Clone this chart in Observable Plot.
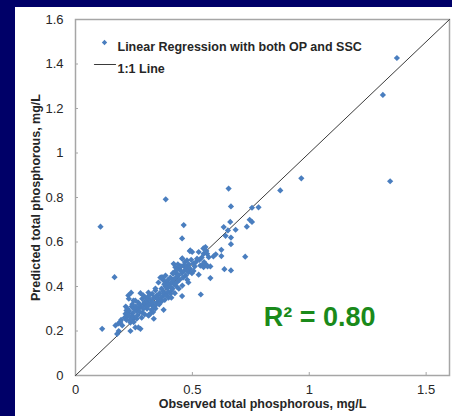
<!DOCTYPE html>
<html>
<head>
<meta charset="utf-8">
<script src="https://cdn.jsdelivr.net/npm/d3@7"></script>
<script src="https://cdn.jsdelivr.net/npm/@observablehq/plot@0.6"></script>
<style>
  html, body { margin: 0; padding: 0; }
  body { width: 452px; height: 416px; background: #000068; position: relative; overflow: hidden; font-family: "Liberation Sans", Arial, sans-serif; }
  #panel { position: absolute; left: 15px; top: 7px; width: 437px; height: 409px; background: #ffffff; }
  #chart { position: absolute; left: 0; top: 0; }
</style>
</head>
<body>
<div id="panel"></div>
<div id="chart"></div>
<script>
const xTicks = [0, 0.5, 1, 1.5];
const yTicks = [0, 0.2, 0.4, 0.6, 0.8, 1, 1.2, 1.4, 1.6];
const xLabel = "Observed total phosphorous, mg/L";
const yLabel = "Predicted total phosphorous, mg/L";
const seriesName = "Linear Regression with both OP and SSC";
const lineName = "1:1 Line";
const r2Text = "R² = 0.80";
const oneToOne = [0, 1.6];

// observed TP (x) and predicted TP (y)
const observed = [
  0.114,0.107,0.167,0.386,0.655,0.665,0.662,0.634,0.685,0.665,0.665,0.665,0.637,0.726,0.577,0.577,0.536,0.463,0.456,0.624,0.624,0.642,0.733,0.745,0.755,0.755,0.783,0.876,0.966,1.346,1.315,1.375,0.652,0.547,0.56,0.59,0.6,
  0.178,0.185,0.171,0.184,0.192,0.2,0.195,
  0.214,0.218,0.226,0.226,0.228,0.235,0.235,0.21,0.22,0.215,0.222,0.23,0.238,0.24,0.244,0.248,0.249,0.249,0.245,0.24,0.232,0.25,0.243,0.218,0.228,
  0.256,0.269,0.278,0.256,0.265,0.269,0.278,0.285,0.286,0.292,0.299,0.26,0.27,0.275,0.28,0.29,0.295,0.262,0.283,0.296,0.3,0.29,0.272,0.258,
  0.306,0.313,0.312,0.312,0.329,0.328,0.335,0.342,0.342,0.342,0.349,0.305,0.31,0.318,0.32,0.325,0.33,0.335,0.338,0.345,0.348,0.315,0.322,0.332,0.308,0.35,
  0.355,0.355,0.363,0.363,0.37,0.372,0.376,0.377,0.377,0.385,0.392,0.393,0.36,0.365,0.368,0.37,0.375,0.38,0.382,0.385,0.388,0.39,0.395,0.398,0.358,0.38,0.396,
  0.399,0.406,0.406,0.41,0.419,0.42,0.427,0.434,0.44,0.449,0.405,0.412,0.415,0.418,0.422,0.425,0.43,0.432,0.435,0.438,0.44,0.442,0.445,0.448,0.41,0.428,0.416,
  0.456,0.456,0.457,0.457,0.462,0.47,0.477,0.483,0.484,0.489,0.491,0.499,0.455,0.46,0.465,0.468,0.472,0.475,0.48,0.485,0.49,0.495,0.498,0.452,0.478,
  0.504,0.52,0.527,0.527,0.534,0.541,0.548,0.548,0.556,0.563,0.57,0.51,0.515,0.505,0.53,0.54,0.55,0.558,0.565
];
const predicted = [
  0.21,0.669,0.442,0.792,0.84,0.76,0.69,0.667,0.655,0.62,0.59,0.472,0.478,0.534,0.49,0.438,0.364,0.676,0.616,0.565,0.537,0.628,0.669,0.70,0.69,0.754,0.756,0.832,0.886,0.873,1.261,1.427,0.652,0.571,0.56,0.535,0.545,
  0.187,0.2,0.225,0.234,0.24,0.225,0.25,
  0.277,0.292,0.279,0.36,0.345,0.238,0.2,0.26,0.265,0.31,0.3,0.29,0.372,0.31,0.256,0.337,0.262,0.24,0.28,0.265,0.25,0.3,0.32,0.25,0.27,
  0.216,0.216,0.21,0.337,0.27,0.328,0.37,0.345,0.283,0.322,0.315,0.29,0.3,0.285,0.31,0.3,0.33,0.255,0.26,0.275,0.35,0.36,0.32,0.31,
  0.3,0.27,0.373,0.27,0.315,0.367,0.255,0.382,0.391,0.301,0.345,0.33,0.345,0.32,0.34,0.295,0.33,0.35,0.31,0.32,0.36,0.36,0.28,0.285,0.31,0.33,
  0.418,0.346,0.33,0.44,0.442,0.436,0.36,0.295,0.427,0.449,0.397,0.391,0.37,0.35,0.39,0.335,0.38,0.37,0.34,0.4,0.36,0.42,0.375,0.35,0.32,0.41,0.43,
  0.412,0.367,0.44,0.38,0.458,0.502,0.487,0.457,0.481,0.472,0.4,0.42,0.39,0.43,0.41,0.37,0.44,0.4,0.42,0.5,0.45,0.39,0.43,0.49,0.35,0.47,0.46,
  0.525,0.357,0.526,0.404,0.494,0.487,0.517,0.418,0.465,0.559,0.562,0.555,0.46,0.44,0.47,0.51,0.45,0.49,0.47,0.5,0.48,0.52,0.46,0.49,0.43,
  0.503,0.525,0.555,0.453,0.494,0.495,0.547,0.487,0.577,0.547,0.532,0.49,0.51,0.47,0.52,0.53,0.51,0.5,0.49
];

const points = observed.map((x, i) => ({x, y: predicted[i]}));
const diag = oneToOne.map(v => ({x: v, y: v}));

const blue = "#4a7ebf";
const axisGray = "#a6a6a6";
const textColor = "#262626";
const lineShape = {draw(context, l) { context.moveTo(0, 0); context.lineTo(0, -l); }};

const chart = Plot.plot({
  width: 452,
  height: 416,
  marginLeft: 75,
  marginRight: 3,
  marginTop: 19,
  marginBottom: 41,
  style: {background: "transparent", fontFamily: "'Liberation Sans', Arial, sans-serif", color: textColor},
  x: {domain: [0, 1.6]},
  y: {domain: [0, 1.6]},
  marks: [
    Plot.frame({stroke: axisGray, strokeWidth: 1.5}),
    Plot.axisX({ticks: xTicks, tickSize: -3, tickPadding: 12, stroke: axisGray, fontSize: 13, fill: textColor, label: null, tickFormat: d => String(d)}),
    Plot.axisY({ticks: yTicks, tickSize: -3, tickPadding: 15, stroke: axisGray, fontSize: 13, fill: textColor, label: null, tickFormat: d => String(d)}),
    Plot.line(diag, {x: "x", y: "y", stroke: "#3a3a3a", strokeWidth: 1}),
    Plot.dot(points, {x: "x", y: "y", symbol: "diamond2", r: 2.8, fill: blue, stroke: null}),
    // axis titles
    Plot.text([xLabel], {text: d => d, frameAnchor: "bottom", dy: 32, fontSize: 12.5, fontWeight: "bold", fill: textColor}),
    Plot.text([yLabel], {text: d => d, frameAnchor: "left", textAnchor: "middle", rotate: -90, dx: -40, fontSize: 12.5, fontWeight: "bold", fill: textColor}),
    // legend
    Plot.dot([seriesName], {frameAnchor: "top-left", dx: 29, dy: 23, symbol: "diamond2", r: 2.4, fill: blue, stroke: null}),
    Plot.text([seriesName], {text: d => d, frameAnchor: "top-left", dx: 42, dy: 23, textAnchor: "start", fontSize: 12.5, fontWeight: "bold", fill: textColor}),
    Plot.vector([lineName], {frameAnchor: "top-left", dx: 19, dy: 45, rotate: 90, length: 21, anchor: "start", shape: lineShape, stroke: "#3a3a3a", strokeWidth: 1.2}),
    Plot.text([lineName], {text: d => d, frameAnchor: "top-left", dx: 42, dy: 45, textAnchor: "start", fontSize: 12.5, fontWeight: "bold", fill: textColor}),
    // R squared
    Plot.text([r2Text], {text: d => d, frameAnchor: "bottom-right", dx: -74, dy: -50, textAnchor: "end", fontSize: 27, fontWeight: "bold", fill: "#1a8a1a"})
  ]
});
document.getElementById("chart").appendChild(chart);
</script>
</body>
</html>
